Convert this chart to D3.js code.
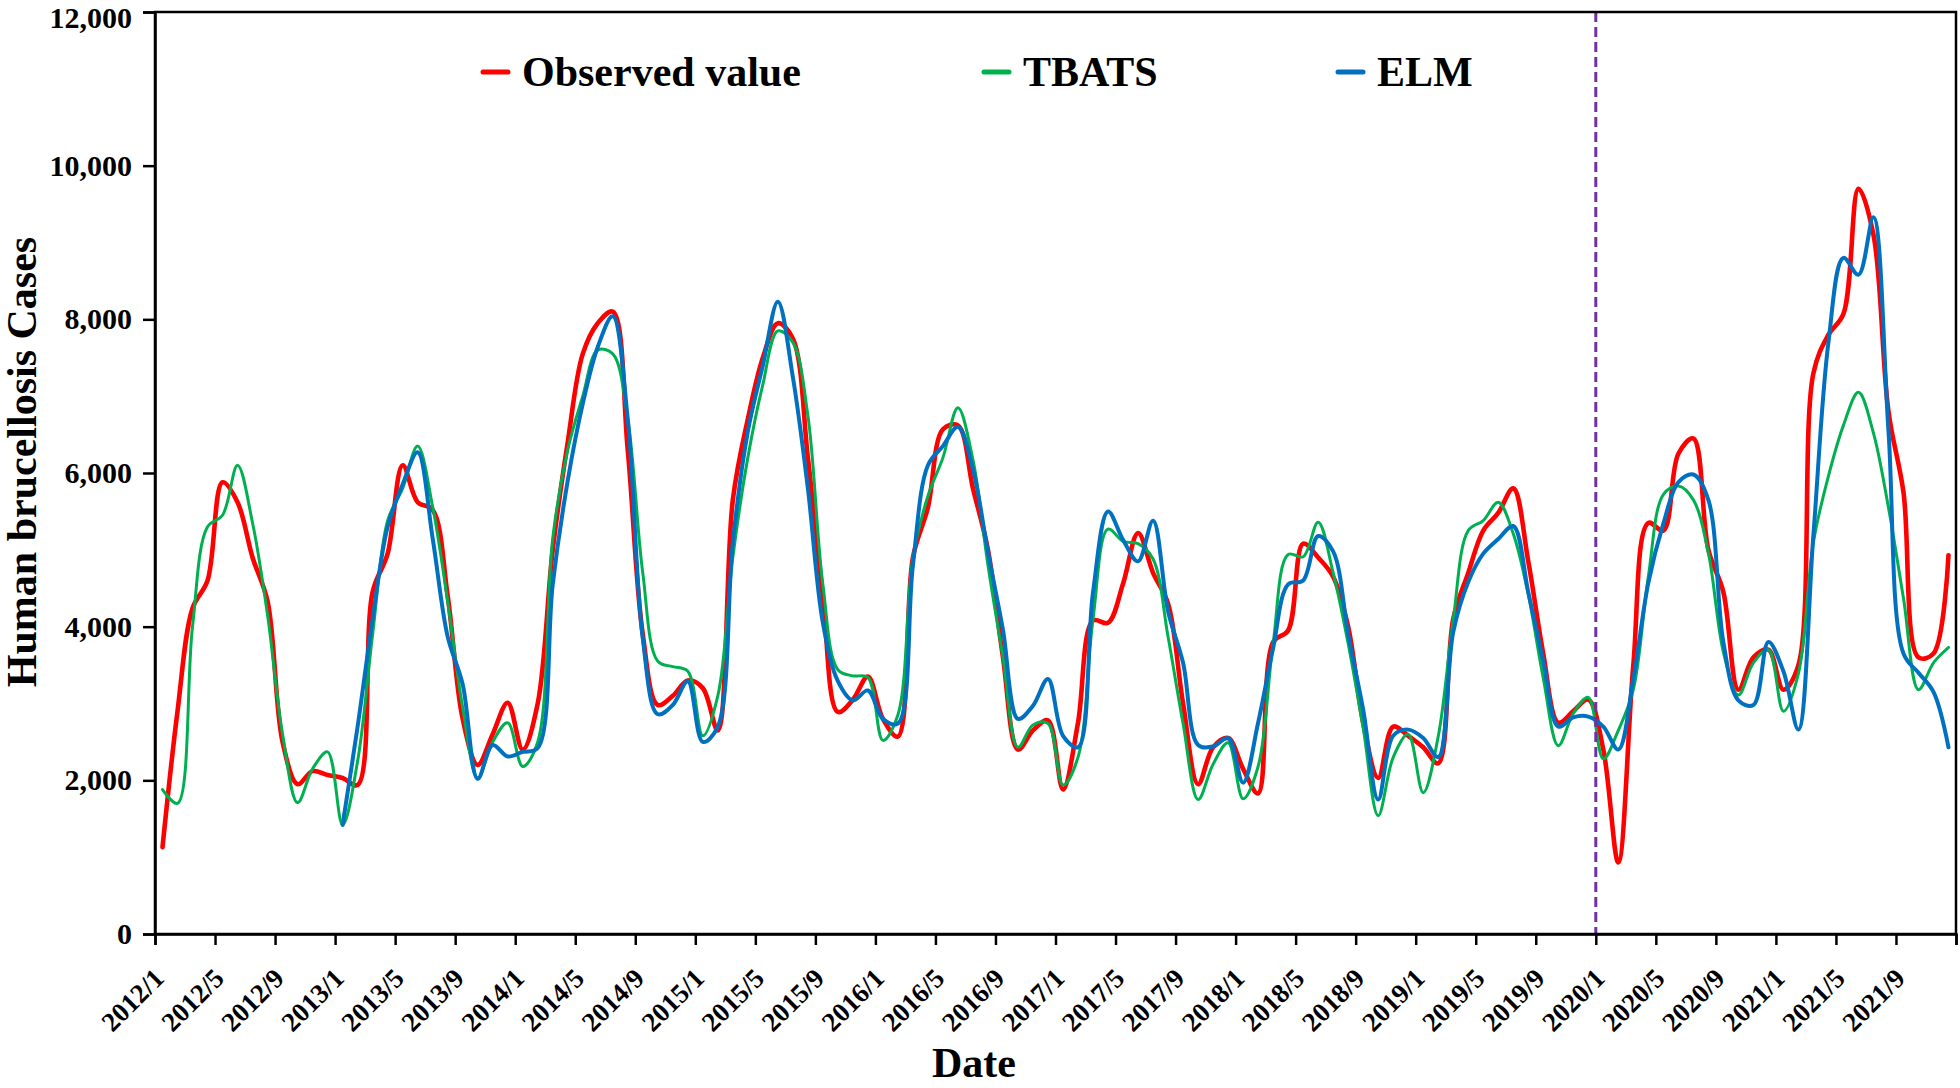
<!DOCTYPE html>
<html>
<head>
<meta charset="utf-8">
<script src="https://cdn.jsdelivr.net/npm/d3@7"></script>
<style>
  html, body { margin: 0; padding: 0; background: #fff; }
  svg { display: block; }
  text { font-family: "Liberation Serif", "Times New Roman", serif; font-weight: bold; fill: #000; }
</style>
</head>
<body>
<svg id="chart" width="1960" height="1088"></svg>
<script>
// ---------------- data ----------------
const years = [2012, 2013, 2014, 2015, 2016, 2017, 2018, 2019, 2020, 2021];
const monthsPerYear = 12;

const tickLabels = ["2012/1","2012/5","2012/9","2013/1","2013/5","2013/9","2014/1","2014/5","2014/9",
  "2015/1","2015/5","2015/9","2016/1","2016/5","2016/9","2017/1","2017/5","2017/9","2018/1","2018/5",
  "2018/9","2019/1","2019/5","2019/9","2020/1","2020/5","2020/9","2021/1","2021/5","2021/9"];

const yTicks = [0, 2000, 4000, 6000, 8000, 10000, 12000];

const observed = [
  1130, 2900, 4240, 4600, 5880, 5620, 4900, 4330, 2500, 1950, 2120, 2070,
  2030, 1940, 4450, 4950, 6100, 5620, 5520, 4400, 2800, 2200, 2600, 3010,
  2400, 3000, 5000, 6400, 7550, 7950, 8100, 6300, 3900, 2980, 3100, 3300,
  3200, 2650, 5650, 6700, 7500, 7950, 7750, 6200, 4400, 2890, 3050, 3350,
  2800, 2570, 4900, 5550, 6570, 6620, 5800, 5000, 3600, 2400, 2650, 2780,
  1880, 2750, 4080, 4050, 4560, 5220, 4700, 4300, 3000, 1950, 2430, 2550,
  2150, 1830, 3800, 3950, 5080, 4900, 4650, 4000, 2750, 2030, 2700, 2580,
  2430, 2220, 4100, 4700, 5250, 5480, 5800, 4850, 3650, 2750, 2900, 3050,
  2400, 930, 3500, 5350, 5250, 6250, 6450, 5000, 4450, 3180, 3600, 3700,
  3180, 3500, 7300, 7800, 8070, 9700, 9100, 6800, 5750, 3600, 3650, 4930
];

const tbats = [
  1880, 1700, 4000, 5300, 5450, 6100, 5350, 4150, 2600, 1710, 2150, 2370,
  1420, 2250, 3900, 5380, 5800, 6350, 5560, 4330, 2950, 2030, 2500, 2750,
  2180, 2500, 5150, 6300, 7000, 7600, 7550, 6700, 4700, 3550, 3480, 3420,
  2580, 3100, 4900, 6200, 7150, 7850, 7700, 6750, 4550, 3440, 3360, 3340,
  2520, 2850, 4900, 5700, 6200, 6850, 6170, 4800, 3600, 2430, 2720, 2740,
  1940, 2300, 4100, 5270, 5110, 5080, 4880, 3870, 2740, 1750, 2210, 2490,
  1760, 2180, 3780, 4940, 4910, 5360, 4700, 3780, 2680, 1540, 2300, 2600,
  1840, 2570, 4090, 5250, 5380, 5620, 5210, 4420, 3330, 2450, 2870, 3080,
  2280, 2650, 3180, 4650, 5720, 5830, 5650, 4960, 3670, 3110, 3530, 3700,
  2900, 3390, 5100, 5960, 6620, 7050, 6520, 5550, 4370, 3180, 3530, 3730
];

const elm = [
  null, null, null, null, null, null, null, null, null, null, null, null,
  1420, 2700, 4100, 5300, 5850, 6270, 5150, 3870, 3250, 2020, 2460, 2310,
  2370, 2420, 4550, 5900, 6900, 7640, 8040, 6700, 3850, 2860, 2980, 3290,
  2500, 2700, 5100, 6540, 7400, 8230, 7250, 5800, 4050, 3290, 3040, 3170,
  2800, 2740, 4800, 6100, 6350, 6600, 6050, 4970, 3960, 2800, 2970, 3320,
  2580, 2430, 4450, 5500, 5130, 4850, 5380, 4200, 3530, 2460, 2440, 2550,
  1970, 2750, 3720, 4550, 4600, 5180, 4980, 3900, 2920, 1750, 2580, 2660,
  2550, 2300, 3930, 4580, 4950, 5140, 5310, 4450, 3550, 2700, 2820, 2830,
  2700, 2400, 3320, 4570, 5340, 5880, 5980, 5650, 3800, 3040, 2980, 3800,
  3420, 2660, 5200, 7700, 8800, 8580, 9330, 6550, 3650, 3400, 3150, 2430
];

const seriesNames = ["Observed value", "TBATS", "ELM"];
const seriesColors = ["#FF0000", "#00B050", "#0070C0"];
const splitLabel = "2020/1";

// categories (month labels)
const categories = [];
years.forEach(yr => { for (let m = 1; m <= monthsPerYear; m++) categories.push(yr + "/" + m); });

// ---------------- layout ----------------
const svg = d3.select("#chart");
const plotLeft = 155, plotRight = 1956, plotTop = 12, plotBottom = 934;

const x = d3.scaleLinear().domain([0, categories.length]).range([plotLeft, plotRight]);
const y = d3.scaleLinear().domain([0, 12000]).range([plotBottom, plotTop]);

const xPos = i => x(i + 0.5);

// series lines
const series = [observed, tbats, elm];
const widths = [4.6, 3.0, 4.0];
const line = d3.line()
  .defined(d => d != null)
  .x((d, i) => xPos(i))
  .y(d => y(d))
  .curve(d3.curveCatmullRom.alpha(0.5));

const plot = svg.append("g");
series.forEach((s, k) => {
  plot.append("path")
    .attr("d", line(s))
    .attr("fill", "none")
    .attr("stroke", seriesColors[k])
    .attr("stroke-width", widths[k])
    .attr("stroke-linejoin", "round")
    .attr("stroke-linecap", "round");
});

// split line at 2020/1
const splitIdx = categories.indexOf(splitLabel);
svg.append("line")
  .attr("x1", x(splitIdx)).attr("x2", x(splitIdx))
  .attr("y1", plotTop).attr("y2", plotBottom)
  .attr("stroke", "#7030A0")
  .attr("stroke-width", 3)
  .attr("stroke-dasharray", "10,5");

// frame
svg.append("rect")
  .attr("x", plotLeft).attr("y", plotTop)
  .attr("width", plotRight - plotLeft).attr("height", plotBottom - plotTop)
  .attr("fill", "none").attr("stroke", "#000").attr("stroke-width", 2.5);

// y axis
const yAxis = svg.append("g")
  .attr("transform", `translate(${plotLeft},0)`)
  .call(d3.axisLeft(y).tickValues(yTicks).tickFormat(d3.format(",")).tickSize(12).tickPadding(11));
yAxis.select(".domain").attr("stroke", "#000").attr("stroke-width", 2.5);
yAxis.selectAll(".tick line").attr("stroke", "#000").attr("stroke-width", 2.5);
yAxis.selectAll(".tick text")
  .style("font-family", "'Liberation Serif', 'Times New Roman', serif")
  .style("font-weight", "bold")
  .style("font-size", "30px")
  .attr("fill", "#000")
  .attr("dy", d => d === 12000 ? "0.5em" : "0.32em");

// x axis
const xTickVals = d3.range(0, categories.length + 1, 4);
const xAxis = svg.append("g")
  .attr("transform", `translate(0,${plotBottom})`)
  .call(d3.axisBottom(x).tickValues(xTickVals)
    .tickFormat((d, i) => tickLabels[i] || "").tickSize(11));
xAxis.select(".domain").attr("stroke", "#000").attr("stroke-width", 2.5);
xAxis.selectAll(".tick line").attr("stroke", "#000").attr("stroke-width", 2.5);
xAxis.selectAll(".tick text")
  .style("font-family", "'Liberation Serif', 'Times New Roman', serif")
  .style("font-weight", "bold")
  .style("font-size", "27px")
  .attr("fill", "#000")
  .attr("x", 0).attr("y", 0).attr("dy", 0)
  .attr("text-anchor", "end")
  .attr("transform", "translate(10,46) rotate(-45)");

// axis titles
svg.append("text")
  .attr("transform", "translate(36,462) rotate(-90)")
  .attr("text-anchor", "middle")
  .style("font-size", "42px")
  .text("Human brucellosis Cases");

svg.append("text")
  .attr("x", 974).attr("y", 1077)
  .attr("text-anchor", "middle")
  .style("font-size", "42px")
  .text("Date");

// legend
const legendX = [483, 984, 1338];
const legend = svg.append("g");
seriesNames.forEach((name, k) => {
  legend.append("line")
    .attr("x1", legendX[k]).attr("x2", legendX[k] + 25)
    .attr("y1", 72).attr("y2", 72)
    .attr("stroke", seriesColors[k]).attr("stroke-width", 5)
    .attr("stroke-linecap", "round");
  legend.append("text")
    .attr("x", legendX[k] + 39).attr("y", 86)
    .style("font-size", "42px")
    .text(name);
});
</script>
</body>
</html>
